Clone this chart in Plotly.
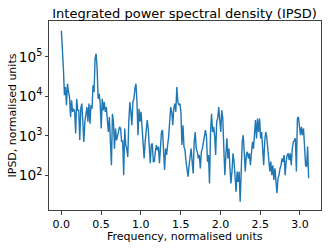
import numpy as np
import plotly.graph_objects as go

log_ipsd = [
    5.66, 5.29, 4.70, 4.03, 4.24, 3.78, 4.32, 4.11, 3.98, 3.48, 3.90, 3.61, 3.69, 3.61, 3.06, 3.94,
    3.65, 3.65, 2.89, 3.69, 3.82, 3.36, 2.85, 3.36, 3.65, 3.73, 3.36, 3.82, 3.31, 3.78, 3.69, 4.28,
    4.11, 4.95, 5.08, 4.70, 3.94, 4.07, 3.82, 3.19, 3.94, 3.65, 3.86, 3.61, 3.73, 3.36, 3.10, 3.48,
    3.02, 2.26, 3.56, 3.36, 2.68, 3.19, 2.89, 3.02, 3.15, 3.23, 3.19, 2.85, 2.89, 2.01, 3.19, 2.77,
    2.68, 2.47, 3.36, 3.86, 3.61, 3.27, 3.86, 3.94, 4.19, 4.32,
    3.86, 3.02, 3.69, 3.36, 3.61, 3.19, 2.85, 2.43, 2.85, 3.27, 3.40, 3.19, 2.85, 2.31, 2.77, 2.81,
    2.35, 2.35, 2.60, 2.77, 2.64, 2.73, 2.31, 2.89, 3.10, 3.15, 2.52, 2.14, 2.68, 2.52, 2.77, 2.98,
    3.36, 3.73, 3.61, 3.27, 3.69, 3.82, 3.61, 4.24, 3.86, 3.78, 3.82, 3.61, 2.77, 3.27, 2.73, 2.64,
    2.35, 2.18, 1.97, 2.26, 2.43, 2.68, 2.35, 2.05, 2.85, 3.10, 2.68, 2.60, 2.43, 2.52, 2.18, 2.60,
    2.68, 2.81, 3.02, 3.15, 2.98, 2.35, 2.52, 1.80, 3.10, 3.56, 3.10, 3.23, 3.02, 2.52, 3.36, 3.44,
    3.73, 3.44, 3.10,
    3.65, 3.44, 2.68, 2.01, 2.52, 2.94, 2.43, 2.68, 2.18, 1.80, 2.10, 2.56, 2.35, 1.93, 1.59, 2.10,
    1.84, 2.10, 1.34, 2.10, 2.85, 3.02, 2.52, 2.10, 2.52, 2.60, 2.43, 2.56, 2.26, 2.56, 2.85, 2.68,
    3.10, 3.40, 2.94, 3.44, 3.10, 3.44, 2.94, 3.10, 2.68, 2.26, 2.85, 3.10, 2.98, 2.68, 2.43, 2.10,
    2.35, 2.01, 2.26, 1.89, 2.18, 1.76, 1.55, 1.93, 2.01, 2.18, 2.26, 2.43, 2.35, 2.52, 2.01, 2.35,
    2.52, 2.56, 2.39, 2.56, 2.26, 2.68, 2.85, 2.89, 2.94, 2.10, 3.44, 3.48, 3.27, 3.02, 3.23, 3.02,
    3.19, 2.77, 2.26, 2.22, 2.73, 1.93,
]
ipsd = [10 ** v for v in log_ipsd]
freq_max = 3.11
frequency = np.linspace(0.0, freq_max, len(ipsd))

x_ticks = [0.0, 0.5, 1.0, 1.5, 2.0, 2.5, 3.0]
x_tick_labels = ["0.0", "0.5", "1.0", "1.5", "2.0", "2.5", "3.0"]

title_text = "Integrated power spectral density (IPSD)"
x_label = "Frequency, normalised units"
y_label = "IPSD, normalised units"

FONT = "DejaVu Sans"
AX = "#404040"

fig = go.Figure()
fig.add_trace(go.Scatter(x=frequency, y=ipsd, mode="lines", hoverinfo="skip",
                         line=dict(color="#1f77b4", width=1.4), showlegend=False))

fig.update_layout(
    width=332, height=249,
    margin=dict(l=49, r=11, t=21, b=39),
    paper_bgcolor="white", plot_bgcolor="white",
    font=dict(family=FONT, size=11, color="black"),
    title=dict(text=title_text, x=0.556, xanchor="center",
               y=0.946, yanchor="middle", yref="container", font=dict(size=13, family=FONT)),
    annotations=[
        dict(text=x_label, xref="paper", yref="paper", x=0.5, y=0, xanchor="center",
             yanchor="middle", yshift=-26, showarrow=False, font=dict(size=11)),
        dict(text=y_label, xref="paper", yref="paper", x=0, y=0.5, xanchor="center",
             yanchor="middle", xshift=-37, textangle=-90, showarrow=False, font=dict(size=11)),
    ],
)
fig.update_xaxes(
    range=[-0.1555, 3.2655], tickmode="array", tickvals=x_ticks, ticktext=x_tick_labels,
    ticks="outside", ticklen=3.5, tickwidth=0.8, tickcolor=AX, automargin=False,
    showline=True, linecolor=AX, linewidth=1, mirror=True, showgrid=False, zeroline=False,
    tickfont=dict(size=11),
)
fig.update_yaxes(
    type="log", range=[1.128, 5.907], dtick=1, exponentformat="power",
    ticks="outside", ticklen=3.5, tickwidth=0.8, tickcolor=AX, automargin=False,
    showline=True, linecolor=AX, linewidth=1, mirror=True, showgrid=False, zeroline=False,
    tickfont=dict(size=11),
)

fig.write_html("out.html", config={"displayModeBar": False},
               post_script="document.body.style.margin='0';document.body.style.padding='0';")
